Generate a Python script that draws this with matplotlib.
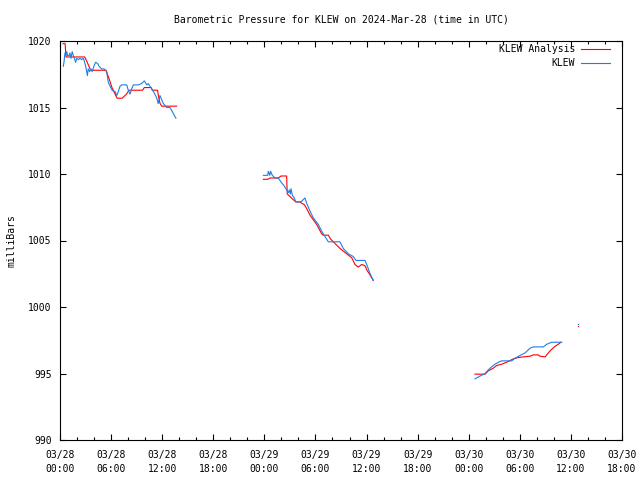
import numpy as np
import matplotlib
matplotlib.use("Agg")
import matplotlib.pyplot as plt
import matplotlib.dates as mdates
from matplotlib.lines import Line2D

plt.rcParams["font.family"] = ["DejaVu Sans Mono"]
plt.rcParams["font.size"] = 7

START = np.datetime64("2024-03-28T00:00")
END = np.datetime64("2024-03-30T18:00")

# hours after 03/28 00:00 UTC, pressure in mb (nan splits the gaps)
analysis_hours = [
    0.35, 0.6, 0.7, 2.9, 3.2, 3.6, 5.4, 5.8, 6.1, 6.7, 7.3, 7.8, 8.1, 9.7,
    9.9, 10.7, 10.85, 11.45, 11.55, 11.75, 11.95, 13.7, np.nan,
    23.88, 24.39, 24.66, 25.64, 25.95, 26.62, 26.69, 27.01, 27.52, 27.68,
    28.19, 28.39, 28.69, 28.97, 29.36, 30.15, 30.73, 30.92, 31.51, 31.79,
    32.10, 32.88, 33.67, 34.26, 34.64, 35.03, 35.43, 35.82, 36.02, 36.41,
    36.79, np.nan,
    48.74, 49.91, 50.30, 50.89, 51.28, 51.87, 52.46, 53.24, 53.82, 54.41,
    55.20, 55.58, 56.17, 56.37, 56.96, 57.55, 58.05, 58.52, 58.84,
]
analysis_mb = [
    1019.8, 1019.8, 1018.8, 1018.8, 1018.4, 1017.8, 1017.8, 1017.1, 1016.5,
    1015.7, 1015.7, 1016.0, 1016.3, 1016.3, 1016.5, 1016.5, 1016.3, 1016.3,
    1015.9, 1015.3, 1015.1, 1015.1, np.nan,
    1009.6, 1009.6, 1009.7, 1009.7, 1009.85, 1009.85, 1008.5, 1008.3,
    1008.0, 1007.9, 1007.9, 1007.8, 1007.7, 1007.4, 1006.9, 1006.2, 1005.5,
    1005.4, 1005.4, 1005.1, 1004.9, 1004.4, 1004.0, 1003.7, 1003.2, 1003.0,
    1003.2, 1003.1, 1002.8, 1002.4, 1002.0, np.nan,
    994.95, 994.95, 995.2, 995.4, 995.6, 995.7, 995.85, 996.1, 996.2,
    996.25, 996.3, 996.4, 996.4, 996.3, 996.25, 996.7, 997.0, 997.2, 997.35,
]

obs_hours = [
    0.39, 0.47, 0.59, 0.70, 0.79, 0.90, 1.06, 1.17, 1.29, 1.44, 1.56, 1.68,
    1.84, 1.96, 2.15, 2.35, 2.55, 2.74, 2.85, 3.02, 3.14, 3.21, 3.32, 3.49,
    3.64, 3.79, 4.03, 4.19, 4.43, 4.58, 4.90, 5.20, 5.48, 5.67, 6.11, 6.46,
    6.66, 6.85, 7.05, 7.25, 7.83, 8.02, 8.22, 8.42, 8.61, 9.20, 9.59, 9.90,
    10.18, 10.37, 10.57, 11.07, 11.36, 11.54, 11.74, 11.94, 12.13, 12.53,
    12.92, 13.19, 13.51, 13.62, np.nan,
    23.88, 24.39, 24.46, 24.63, 24.74, 24.93, 25.25, 25.64, 25.95, 26.34,
    26.62, 26.81, 26.93, 27.05, 27.13, 27.28, 27.52, 27.68, 28.19, 28.39,
    28.77, 28.97, 29.36, 29.75, 30.33, 30.73, 31.12, 31.51, 32.88, 33.27,
    33.86, 34.44, 34.76, 35.82, 36.02, 36.41, 36.79, np.nan,
    48.74, 49.32, 49.91, 50.50, 51.08, 51.67, 51.87, 53.05, 53.44, 54.02,
    54.61, 55.20, 55.58, 56.76, 57.16, 57.74, 58.92,
]
obs_mb = [
    1018.1, 1018.4, 1019.1, 1018.9, 1019.2, 1018.9, 1018.9, 1019.1, 1018.7,
    1019.2, 1018.9, 1018.7, 1018.4, 1018.7, 1018.6, 1018.7, 1018.6, 1018.7,
    1018.5, 1018.1, 1017.7, 1017.4, 1017.9, 1017.7, 1017.9, 1017.7, 1018.2,
    1018.4, 1018.3, 1018.1, 1017.9, 1017.9, 1017.7, 1016.9, 1016.3, 1016.2,
    1015.9, 1016.2, 1016.6, 1016.7, 1016.7, 1016.3, 1016.0, 1016.4, 1016.7,
    1016.7, 1016.8, 1017.0, 1016.7, 1016.8, 1016.6, 1016.1, 1015.7, 1015.3,
    1015.9, 1015.6, 1015.3, 1015.0, 1015.0, 1014.7, 1014.3, 1014.2, np.nan,
    1009.9, 1009.9, 1010.2, 1009.9, 1010.2, 1009.9, 1009.7, 1009.7, 1009.4,
    1009.1, 1008.8, 1008.6, 1008.8, 1008.5, 1008.9, 1008.4, 1008.2, 1007.9,
    1007.9, 1007.95, 1008.2, 1007.8, 1007.2, 1006.7, 1006.2, 1005.7, 1005.3,
    1004.9, 1004.9, 1004.4, 1004.0, 1003.8, 1003.5, 1003.5, 1003.2, 1002.5,
    1002.0, np.nan,
    994.6, 994.8, 995.0, 995.4, 995.7, 995.9, 995.95, 995.95, 996.15, 996.35,
    996.55, 996.9, 997.0, 997.0, 997.2, 997.35, 997.35,
]

# lone reports near 03/30 12:50
lone_hours = [60.83]
lone_analysis = [998.6]
lone_obs = [998.75]

RED = "#ff0000"
BLUE = "#1e7ee6"
LW = 0.8


def to_time(hours):
    mins = np.round(np.asarray(hours, dtype=float) * 60)
    out = np.full(mins.shape, np.datetime64("NaT"), dtype="datetime64[m]")
    ok = ~np.isnan(mins)
    out[ok] = START + mins[ok].astype(int).astype("timedelta64[m]")
    return out


fig = plt.figure(figsize=(6.4, 4.8), dpi=100)
ax = fig.add_axes([60 / 640, 40 / 480, 562 / 640, 399 / 480])

ax.plot(to_time(analysis_hours), analysis_mb, color=RED, lw=LW)
ax.plot(to_time(obs_hours), obs_mb, color=BLUE, lw=LW)
ax.plot(to_time(lone_hours), lone_analysis, ls="none", marker="s", ms=0.9,
        mew=0, mfc=RED)
ax.plot(to_time(lone_hours), lone_obs, ls="none", marker="s", ms=0.9,
        mew=0, mfc=BLUE)

ax.set_xlim(START, END)
ax.set_ylim(990, 1020)
ax.set_yticks(np.arange(990, 1021, 5))
ax.xaxis.set_major_locator(mdates.HourLocator(byhour=[0, 6, 12, 18]))
ax.xaxis.set_minor_locator(mdates.HourLocator(interval=2))
ax.xaxis.set_major_formatter(mdates.DateFormatter("%m/%d\n%H:%M"))

ax.tick_params(which="both", direction="in", top=True, right=True,
               width=LW, colors="black", labelsize=7)
ax.tick_params(which="major", length=4.5)
ax.tick_params(which="minor", length=2.2)
ax.tick_params(axis="x", which="major", pad=7)
ax.tick_params(axis="y", which="major", pad=6)
for label in ax.get_xticklabels():
    label.set_linespacing(1.5)
for s in ax.spines.values():
    s.set_linewidth(LW)

ax.set_title("Barometric Pressure for KLEW on 2024-Mar-28 (time in UTC)",
             fontsize=7, pad=13)
ax.set_ylabel("milliBars", fontsize=7)
ax.yaxis.set_label_coords(-0.077, 0.5)

# gnuplot-style key: right-aligned text, sample line to its right
for i, (name, col) in enumerate([("KLEW Analysis", RED), ("KLEW", BLUE)]):
    y = 1 - (8 + 14 * i) / 399
    ax.text(515 / 562, y, name, transform=ax.transAxes, ha="right",
            va="center", fontsize=7)
    ax.add_line(Line2D([521 / 562, 550 / 562], [y, y], transform=ax.transAxes,
                       color=col, lw=LW))

fig.savefig("out.png", dpi=100)
